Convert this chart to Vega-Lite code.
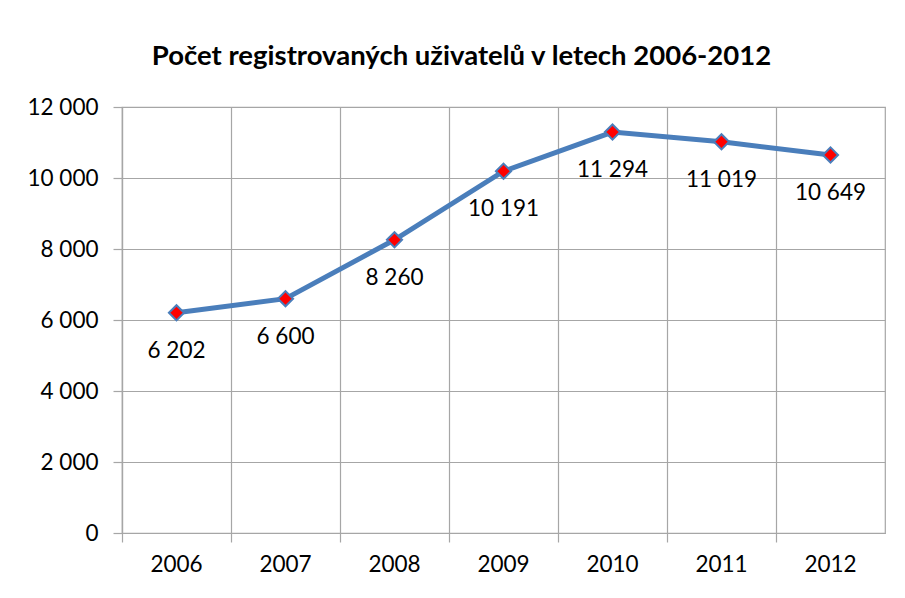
{
  "$schema": "https://vega.github.io/schema/vega-lite/v6.json",
  "autosize": {"type": "none"},
  "width": 763,
  "height": 426,
  "padding": {"left": 122, "top": 107, "right": 20, "bottom": 65},
  "background": "white",
  "config": {
    "locale": {"number": {"decimal": ",", "thousands": " ", "grouping": [3], "currency": ["", " Kč"]}},
    "font": "Lato",
    "view": {"stroke": "#a6a6a6", "strokeWidth": 1.2}
  },
  "title": {
    "text": "Počet registrovaných uživatelů v letech 2006-2012",
    "font": "Lato",
    "fontSize": 27.5,
    "fontWeight": "bold",
    "color": "#000000",
    "anchor": "middle",
    "dx": -42,
    "offset": 26
  },
  "data": {
    "values": [
      {"rok": "2006", "pocet": 6202},
      {"rok": "2007", "pocet": 6600},
      {"rok": "2008", "pocet": 8260},
      {"rok": "2009", "pocet": 10191},
      {"rok": "2010", "pocet": 11294},
      {"rok": "2011", "pocet": 11019},
      {"rok": "2012", "pocet": 10649}
    ]
  },
  "encoding": {
    "x": {
      "field": "rok",
      "type": "ordinal",
      "scale": {"type": "band", "paddingInner": 0, "paddingOuter": 0},
      "axis": {
        "title": null,
        "labelAngle": 0,
        "bandPosition": 0,
        "grid": true,
        "gridColor": "#a6a6a6",
        "gridWidth": 1.2,
        "tickColor": "#a6a6a6",
        "tickSize": 9,
        "tickWidth": 1.2,
        "domainColor": "#a6a6a6",
        "domainWidth": 1.2,
        "labelFontSize": 22.5,
        "labelColor": "#000000",
        "labelPadding": 11,
        "labelAlign": "center"
      }
    },
    "y": {
      "field": "pocet",
      "type": "quantitative",
      "scale": {"domain": [0, 12000], "nice": false},
      "axis": {
        "title": null,
        "values": [0, 2000, 4000, 6000, 8000, 10000, 12000],
        "format": ",d",
        "grid": true,
        "gridColor": "#a6a6a6",
        "gridWidth": 1.2,
        "tickColor": "#a6a6a6",
        "tickSize": 9,
        "tickWidth": 1.2,
        "domainColor": "#a6a6a6",
        "domainWidth": 1.2,
        "labelFontSize": 22.5,
        "labelColor": "#000000",
        "labelPadding": 15
      }
    }
  },
  "layer": [
    {
      "mark": {"type": "line", "color": "#4a7ebb", "strokeWidth": 5}
    },
    {
      "mark": {"type": "point", "shape": "diamond", "filled": true, "fill": "#ff0000", "stroke": "#4a7ebb", "strokeWidth": 2, "size": 230, "opacity": 1}
    },
    {
      "mark": {"type": "text", "dy": 38, "fontSize": 22.5, "color": "#000000", "baseline": "middle", "align": "center"},
      "encoding": {
        "text": {"field": "pocet", "type": "quantitative", "format": ",d"}
      }
    }
  ]
}
